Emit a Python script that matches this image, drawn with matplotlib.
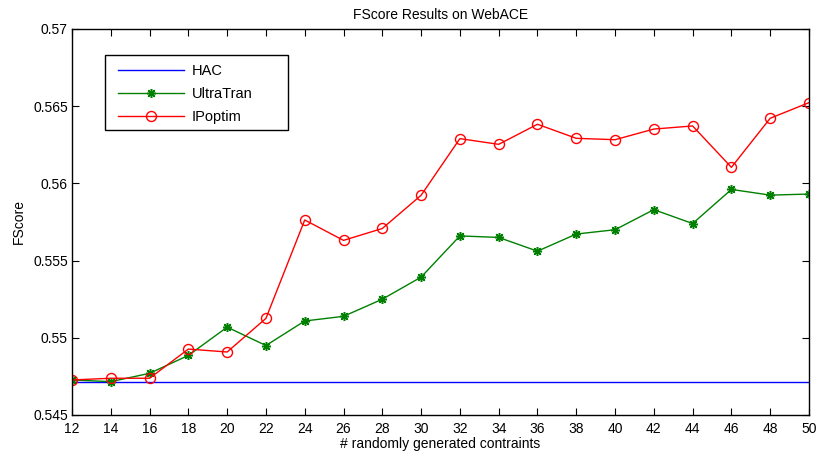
import matplotlib
matplotlib.use("Agg")
import matplotlib.pyplot as plt
from matplotlib.patches import Rectangle

plt.rcParams['font.family'] = ['Liberation Sans', 'DejaVu Sans']

x = [12, 14, 16, 18, 20, 22, 24, 26, 28, 30, 32, 34, 36, 38, 40, 42, 44, 46, 48, 50]
hac = [0.54712] * len(x)
ultratran = [0.54727, 0.54716, 0.54770, 0.54886, 0.55069, 0.54950, 0.55109, 0.55139,
             0.55250, 0.55393, 0.55660, 0.55650, 0.55561, 0.55672, 0.55700, 0.55830,
             0.55740, 0.55961, 0.55924, 0.55931]
ipoptim = [0.54727, 0.54738, 0.54738, 0.54927, 0.54908, 0.55126, 0.55763, 0.55631,
           0.55708, 0.55923, 0.56290, 0.56253, 0.56383, 0.56292, 0.56283, 0.56352,
           0.56372, 0.56104, 0.56422, 0.56523]
xticks = list(range(12, 51, 2))
yticks = [0.545, 0.55, 0.555, 0.56, 0.565, 0.57]
ytick_labels = ['0.545', '0.55', '0.555', '0.56', '0.565', '0.57']

W, H = 816, 453
fig = plt.figure(figsize=(W / 100, H / 100), dpi=100)
ax_l, ax_b, ax_w, ax_h = 72, 38, 737, 386
ax = fig.add_axes([ax_l / W, ax_b / H, ax_w / W, ax_h / H])

asterisk = (8, 2, 0)
ax.plot(x, hac, color='#0000ff', lw=1.0, label='HAC')
ax.plot(x, ultratran, color='#008000', lw=1.0, marker=asterisk, markersize=6.5,
        markeredgewidth=1.1, label='UltraTran')
ax.plot(x, ipoptim, color='#ff0000', lw=1.0, marker='o', markersize=7.2,
        markerfacecolor='none', markeredgewidth=1.0, label='IPoptim')

ax.set_xlim(12, 50)
ax.set_ylim(0.545, 0.57)
ax.set_xticks(xticks)
ax.set_xticklabels([str(v) for v in xticks])
ax.set_yticks(yticks)
ax.set_yticklabels(ytick_labels)
ax.tick_params(direction='in', length=5, width=0.8, labelsize=10, top=True, right=True)
ax.tick_params(axis='x', pad=5)
ax.tick_params(axis='y', pad=3)
for s in ax.spines.values():
    s.set_linewidth(1.0)

ax.set_title('FScore Results on WebACE', fontsize=10, pad=7)
ax.set_xlabel('# randomly generated contraints', fontsize=10, labelpad=1)
ax.set_ylabel('FScore', fontsize=10, labelpad=5)

# legend (frame drawn separately to get MATLAB-style extra right padding)
def axfx(px):
    return (px - ax_l) / ax_w

def axfy(py):
    return (H - ax_b - py) / ax_h

leg = ax.legend(loc='upper left', bbox_to_anchor=(axfx(118), axfy(64)), borderaxespad=0,
                frameon=False, fontsize=10.5, handlelength=4.5, handletextpad=0.55,
                labelspacing=0.62, borderpad=0)
ax.add_patch(Rectangle((axfx(105), axfy(130)), axfx(288) - axfx(105), axfy(55) - axfy(130),
                       transform=ax.transAxes, facecolor='white', edgecolor='black',
                       lw=1.0, zorder=4))
leg.set_zorder(5)

fig.savefig('out.png', dpi=100)
